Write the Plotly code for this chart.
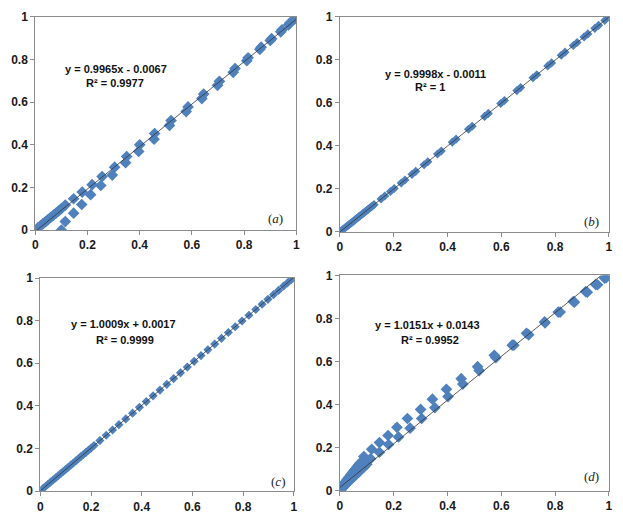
import plotly.graph_objects as go

# ---------------- data ----------------
# panel (a)
a1_x = [0.00, 0.01, 0.02, 0.03, 0.04, 0.05, 0.06, 0.07, 0.08, 0.09, 0.10, 0.115, 0.147, 0.18, 0.218, 0.256, 0.304, 0.35, 0.40, 0.457, 0.52, 0.585, 0.645, 0.705, 0.765, 0.815, 0.865, 0.905, 0.945, 0.975, 1.00]
a1_y = [0.00, 0.01, 0.02, 0.03, 0.04, 0.05, 0.06, 0.07, 0.08, 0.09, 0.10, 0.117, 0.147, 0.178, 0.213, 0.251, 0.295, 0.345, 0.40, 0.453, 0.514, 0.578, 0.638, 0.698, 0.758, 0.808, 0.858, 0.898, 0.94, 0.972, 1.00]
a2_x = [0.10, 0.115, 0.147, 0.178, 0.212, 0.251, 0.295, 0.346, 0.396, 0.455, 0.514, 0.578, 0.638, 0.698, 0.758, 0.81, 0.86, 0.90, 0.94, 0.97, 0.993]
a2_y = [0.00, 0.04, 0.079, 0.12, 0.166, 0.209, 0.258, 0.316, 0.369, 0.426, 0.491, 0.556, 0.617, 0.679, 0.74, 0.795, 0.848, 0.89, 0.93, 0.963, 0.99]

# panel (b)
b1_x = [0.00, 0.005, 0.01, 0.015, 0.02, 0.03, 0.04, 0.05, 0.06, 0.07, 0.08, 0.09, 0.10, 0.11, 0.12, 0.153, 0.188, 0.228, 0.268, 0.313, 0.363, 0.418, 0.478, 0.538, 0.598, 0.658, 0.718, 0.773, 0.823, 0.868, 0.908, 0.948, 0.985]
b1_y = [0.00, 0.004, 0.009, 0.014, 0.019, 0.029, 0.039, 0.049, 0.059, 0.069, 0.079, 0.089, 0.099, 0.109, 0.119, 0.152, 0.187, 0.227, 0.267, 0.312, 0.362, 0.417, 0.477, 0.537, 0.597, 0.657, 0.717, 0.772, 0.822, 0.867, 0.907, 0.947, 0.984]
b2_x = [0.025, 0.035, 0.045, 0.055, 0.065, 0.075, 0.085, 0.095, 0.105, 0.115, 0.127, 0.167, 0.202, 0.242, 0.282, 0.327, 0.377, 0.432, 0.492, 0.552, 0.612, 0.672, 0.732, 0.787, 0.837, 0.882, 0.922, 0.962, 1.00]
b2_y = [0.024, 0.034, 0.044, 0.054, 0.064, 0.074, 0.084, 0.094, 0.104, 0.114, 0.126, 0.166, 0.201, 0.241, 0.281, 0.326, 0.376, 0.431, 0.491, 0.551, 0.611, 0.671, 0.731, 0.786, 0.836, 0.881, 0.921, 0.961, 1.00]

# panel (c)
c_x = [0.00, 0.01, 0.02, 0.03, 0.04, 0.05, 0.06, 0.07, 0.08, 0.09, 0.10, 0.11, 0.12, 0.13, 0.14, 0.15, 0.16, 0.17, 0.18, 0.19, 0.20, 0.212, 0.235, 0.26, 0.285, 0.31, 0.337, 0.364, 0.391, 0.418, 0.445, 0.472, 0.499, 0.526, 0.553, 0.58, 0.607, 0.634, 0.661, 0.688, 0.715, 0.742, 0.769, 0.796, 0.823, 0.85, 0.875, 0.898, 0.92, 0.94, 0.96, 0.975, 0.99, 1.00]
c_y = [0.002, 0.012, 0.022, 0.032, 0.042, 0.052, 0.062, 0.072, 0.082, 0.092, 0.102, 0.112, 0.122, 0.132, 0.142, 0.152, 0.162, 0.172, 0.182, 0.192, 0.202, 0.214, 0.237, 0.262, 0.287, 0.312, 0.339, 0.366, 0.393, 0.42, 0.447, 0.474, 0.501, 0.528, 0.555, 0.582, 0.609, 0.636, 0.663, 0.69, 0.717, 0.744, 0.771, 0.798, 0.825, 0.852, 0.877, 0.9, 0.922, 0.942, 0.962, 0.977, 0.992, 1.00]

# panel (d)
d1_x = [0.00, 0.005, 0.01, 0.015, 0.02, 0.025, 0.03, 0.035, 0.04, 0.045, 0.05, 0.055, 0.06, 0.065, 0.07, 0.075, 0.089, 0.118, 0.147, 0.179, 0.212, 0.251, 0.30, 0.344, 0.396, 0.451, 0.512, 0.574, 0.641, 0.694, 0.761, 0.812, 0.868, 0.914, 0.951, 0.984, 1.00]
d1_y = [0.00, 0.01, 0.02, 0.03, 0.04, 0.048, 0.056, 0.064, 0.072, 0.08, 0.088, 0.096, 0.104, 0.112, 0.12, 0.128, 0.158, 0.192, 0.223, 0.256, 0.294, 0.335, 0.377, 0.425, 0.471, 0.52, 0.576, 0.629, 0.676, 0.731, 0.784, 0.83, 0.879, 0.925, 0.958, 0.988, 1.00]
d2_x = [0.005, 0.01, 0.02, 0.03, 0.04, 0.05, 0.06, 0.07, 0.08, 0.09, 0.10, 0.114, 0.147, 0.181, 0.218, 0.261, 0.304, 0.353, 0.402, 0.457, 0.518, 0.58, 0.647, 0.702, 0.763, 0.819, 0.872, 0.92, 0.958, 0.99]
d2_y = [0.003, 0.012, 0.025, 0.038, 0.05, 0.062, 0.074, 0.086, 0.098, 0.11, 0.122, 0.148, 0.178, 0.214, 0.249, 0.29, 0.335, 0.385, 0.437, 0.495, 0.558, 0.618, 0.676, 0.724, 0.78, 0.83, 0.876, 0.922, 0.957, 0.99]

# trendline equations and labels
slopes = [0.9965, 0.9998, 1.0009, 1.0151]
intercepts = [-0.0067, -0.0011, 0.0017, 0.0143]
eq_texts = ["y = 0.9965x - 0.0067", "y = 0.9998x - 0.0011", "y = 1.0009x + 0.0017", "y = 1.0151x + 0.0143"]
r2_texts = ["R² = 0.9977", "R² = 1", "R² = 0.9999", "R² = 0.9952"]
panel_labels = ["a", "b", "c", "d"]
tick_vals = [0, 0.2, 0.4, 0.6, 0.8, 1]
tick_text = ["0", "0.2", "0.4", "0.6", "0.8", "1"]

# ---------------- layout ----------------
OFF = 8  # page body margin
W, H = 623 - OFF, 528 - OFF
# plot-area boxes in window pixels: (left, right, top, bottom)
boxes = [(32.5, 296.7, 10, 229), (340.7, 612.7, 10, 230.7),
         (37.7, 294, 278.3, 497.3), (340.7, 612.7, 275.7, 496.7)]
eq_pos = [(0.31, 0.758, 0.305, 0.69), (0.356, 0.736, 0.335, 0.675),
          (0.328, 0.782, 0.334, 0.71), (0.325, 0.772, 0.335, 0.701)]
lab_pos = [(0.918, 0.055), (0.935, 0.048), (0.936, 0.044), (0.935, 0.063)]

BLUE = "#4F81BD"
series = [
    [(a1_x, a1_y), (a2_x, a2_y)],
    [(b1_x, b1_y), (b2_x, b2_y)],
    [(c_x, c_y)],
    [(d1_x, d1_y), (d2_x, d2_y)],
]
msize = [9, 7, 7, 9]

fig = go.Figure()
layout = dict(width=W, height=H, margin=dict(l=0, r=0, t=0, b=0),
              paper_bgcolor="white", plot_bgcolor="white", showlegend=False,
              annotations=[])

tickfont = dict(family="Liberation Sans, Arial, sans-serif", size=12, color="#1a1a1a", weight="bold")
for i in range(4):
    sfx = "" if i == 0 else str(i + 1)
    xa, ya = "x" + sfx, "y" + sfx
    for sx, sy in series[i]:
        fig.add_trace(go.Scatter(x=sx, y=sy, mode="markers", xaxis=xa, yaxis=ya,
                                 marker=dict(symbol="diamond", size=msize[i], color=BLUE,
                                             line=dict(width=0)),
                                 cliponaxis=True, hoverinfo="skip"))
    tx = [0, 1]
    ty = [slopes[i] * v + intercepts[i] for v in tx]
    fig.add_trace(go.Scatter(x=tx, y=ty, mode="lines", xaxis=xa, yaxis=ya,
                             line=dict(color="#333333", width=0.8), hoverinfo="skip"))
    l, r, t, b = [v - OFF for v in boxes[i]]
    axcommon = dict(range=[0, 1], tickvals=tick_vals, ticktext=tick_text,
                    showgrid=False, zeroline=False, showline=True, mirror=True,
                    linecolor="#8c8c8c", linewidth=1, ticks="outside", ticklen=4,
                    tickcolor="#8c8c8c", tickfont=tickfont, ticklabeloverflow="allow")
    layout["xaxis" + sfx] = dict(axcommon, domain=[l / W, r / W], anchor=ya)
    layout["yaxis" + sfx] = dict(axcommon, domain=[1 - b / H, 1 - t / H], anchor=xa)
    ex, ey, rx, ry = eq_pos[i]
    eqfont = dict(family="Liberation Sans, Arial, sans-serif", size=11, color="#111111")
    layout["annotations"] += [
        dict(x=ex, y=ey, xref=xa, yref=ya, text="<b>" + eq_texts[i] + "</b>",
             showarrow=False, font=eqfont, xanchor="center", yanchor="middle"),
        dict(x=rx, y=ry, xref=xa, yref=ya, text="<b>" + r2_texts[i] + "</b>",
             showarrow=False, font=eqfont, xanchor="center", yanchor="middle"),
        dict(x=lab_pos[i][0], y=lab_pos[i][1], xref=xa, yref=ya,
             text="(<i>" + panel_labels[i] + "</i>)", showarrow=False,
             font=dict(family="Liberation Serif, Times New Roman, serif", size=13, color="#222222"),
             xanchor="center", yanchor="middle"),
    ]

fig.update_layout(**layout)
fig.write_html("out.html", config={"displayModeBar": False})
